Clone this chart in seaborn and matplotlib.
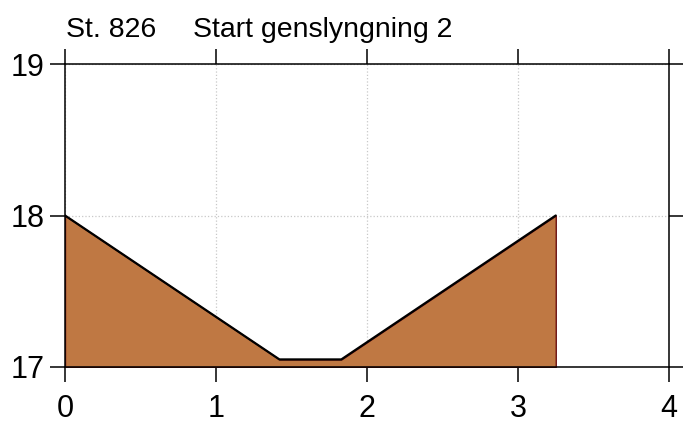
import matplotlib
matplotlib.use('Agg')
import matplotlib.pyplot as plt
import seaborn as sns
import pandas as pd

# Profile data (distance, depth)
distance = [0, 1.42, 1.83, 3.25]
depth = [18, 17.05, 17.05, 18]
x_ticks = [0, 1, 2, 3, 4]
y_ticks = [17, 18, 19]
station = 'St. 826'
label = 'Start genslyngning 2'

sns.set_style('white')
plt.rcParams['font.family'] = ['Liberation Sans', 'DejaVu Sans']
plt.rcParams['text.color'] = 'black'
plt.rcParams['xtick.color'] = 'black'
plt.rcParams['ytick.color'] = 'black'

df = pd.DataFrame({'distance': distance, 'depth': depth})

fig = plt.figure(figsize=(6.83, 4.24), dpi=100)
ax = fig.add_axes([65 / 683, 1 - 367 / 424, 604 / 683, 303 / 424])

ax.fill_between(df['distance'], df['depth'], 17, facecolor='#bf7843',
                edgecolor='#6b1010', linewidth=1.0, zorder=2)
sns.lineplot(data=df, x='distance', y='depth', color='black', linewidth=1.6,
             ax=ax, zorder=3)

ax.set_xlim(0, 4)
ax.set_ylim(17, 19)
ax.set_xticks(x_ticks)
ax.set_yticks(y_ticks)
ax.set_xlabel('')
ax.set_ylabel('')
ax.grid(True, color='#c8c8c8', linestyle=':', linewidth=0.9, zorder=0)
ax.set_axisbelow(True)

for s in ax.spines.values():
    s.set_visible(True)
    s.set_color('black')
    s.set_linewidth(1.1)

ax.tick_params(axis='both', direction='out', length=10.5, width=1.1, color='black',
               labelcolor='black', labelsize=22, bottom=True, left=True,
               top=True, right=True, labeltop=False, labelright=False)
ax.tick_params(axis='x', pad=9)
ax.tick_params(axis='y', pad=4)

fig.text(66 / 683, 1 - 37 / 424, station, fontsize=20.5, ha='left', va='baseline')
fig.text(193 / 683, 1 - 37 / 424, label, fontsize=20.5, ha='left', va='baseline')

fig.savefig('out.png', dpi=100)
